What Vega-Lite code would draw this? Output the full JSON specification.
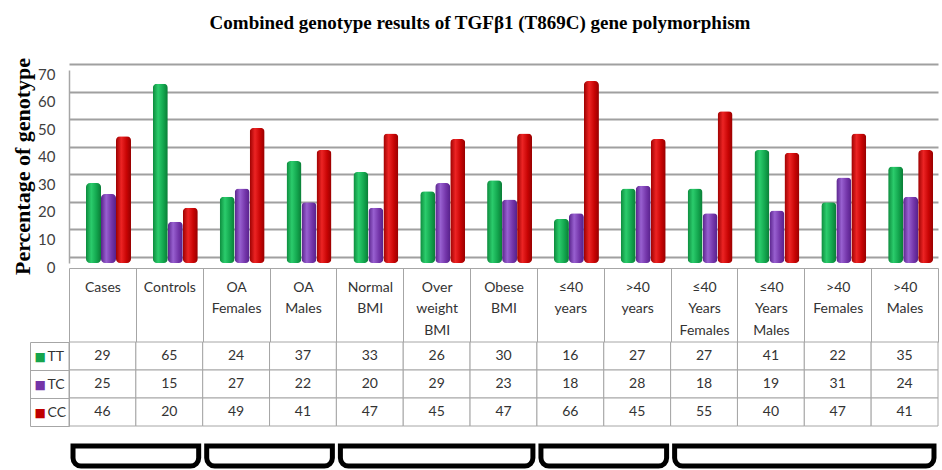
{
  "$schema": "https://vega.github.io/schema/vega-lite/v6.json",
  "width": 942,
  "height": 470,
  "autosize": {"type": "none"},
  "padding": 0,
  "background": "white",
  "config": {"view": {"stroke": null}},
  "title": {"text": "Combined genotype results of  TGFβ1 (T869C) gene polymorphism", "font": "Liberation Serif", "fontSize": 19, "fontWeight": "bold", "color": "#000000", "anchor": "middle", "frame": "group", "dy": 40, "dx": 9, "offset": 0},
  "datasets": {
    "geno": [
      {"category": "Cases", "genotype": "TT", "value": 29},
      {"category": "Controls", "genotype": "TT", "value": 65},
      {"category": "OA\nFemales", "genotype": "TT", "value": 24},
      {"category": "OA\nMales", "genotype": "TT", "value": 37},
      {"category": "Normal\nBMI", "genotype": "TT", "value": 33},
      {"category": "Over\nweight\nBMI", "genotype": "TT", "value": 26},
      {"category": "Obese\nBMI", "genotype": "TT", "value": 30},
      {"category": "≤40\nyears", "genotype": "TT", "value": 16},
      {"category": ">40\nyears", "genotype": "TT", "value": 27},
      {"category": "≤40\nYears\nFemales", "genotype": "TT", "value": 27},
      {"category": "≤40\nYears\nMales", "genotype": "TT", "value": 41},
      {"category": ">40\nFemales", "genotype": "TT", "value": 22},
      {"category": ">40\nMales", "genotype": "TT", "value": 35},
      {"category": "Cases", "genotype": "TC", "value": 25},
      {"category": "Controls", "genotype": "TC", "value": 15},
      {"category": "OA\nFemales", "genotype": "TC", "value": 27},
      {"category": "OA\nMales", "genotype": "TC", "value": 22},
      {"category": "Normal\nBMI", "genotype": "TC", "value": 20},
      {"category": "Over\nweight\nBMI", "genotype": "TC", "value": 29},
      {"category": "Obese\nBMI", "genotype": "TC", "value": 23},
      {"category": "≤40\nyears", "genotype": "TC", "value": 18},
      {"category": ">40\nyears", "genotype": "TC", "value": 28},
      {"category": "≤40\nYears\nFemales", "genotype": "TC", "value": 18},
      {"category": "≤40\nYears\nMales", "genotype": "TC", "value": 19},
      {"category": ">40\nFemales", "genotype": "TC", "value": 31},
      {"category": ">40\nMales", "genotype": "TC", "value": 24},
      {"category": "Cases", "genotype": "CC", "value": 46},
      {"category": "Controls", "genotype": "CC", "value": 20},
      {"category": "OA\nFemales", "genotype": "CC", "value": 49},
      {"category": "OA\nMales", "genotype": "CC", "value": 41},
      {"category": "Normal\nBMI", "genotype": "CC", "value": 47},
      {"category": "Over\nweight\nBMI", "genotype": "CC", "value": 45},
      {"category": "Obese\nBMI", "genotype": "CC", "value": 47},
      {"category": "≤40\nyears", "genotype": "CC", "value": 66},
      {"category": ">40\nyears", "genotype": "CC", "value": 45},
      {"category": "≤40\nYears\nFemales", "genotype": "CC", "value": 55},
      {"category": "≤40\nYears\nMales", "genotype": "CC", "value": 40},
      {"category": ">40\nFemales", "genotype": "CC", "value": 47},
      {"category": ">40\nMales", "genotype": "CC", "value": 41}
    ],
    "braces": [
      {"g": "a", "from": "Cases", "to": "Controls"},
      {"g": "b", "from": "OA\nFemales", "to": "OA\nMales"},
      {"g": "c", "from": "Normal\nBMI", "to": "Obese\nBMI"},
      {"g": "d", "from": "≤40\nyears", "to": ">40\nyears"},
      {"g": "e", "from": "≤40\nYears\nFemales", "to": ">40\nMales"}
    ]
  },
  "layer": [
    {
      "data": {"name": "geno"},
      "transform": [{"filter": "datum.genotype === 'TT'"}],
      "mark": {"type": "bar", "cornerRadius": 4, "fill": {"gradient": "linear", "x1": 0, "x2": 1, "y1": 0, "y2": 0, "stops": [{"offset": 0, "color": "#0c8a3c"}, {"offset": 0.35, "color": "#2bcc6c"}, {"offset": 0.7, "color": "#13a64e"}, {"offset": 1, "color": "#0a7c36"}]}},
      "encoding": {
        "x": {"field": "category", "type": "nominal", "sort": null,
          "scale": {"domain": ["Cases", "Controls", "OA\nFemales", "OA\nMales", "Normal\nBMI", "Over\nweight\nBMI", "Obese\nBMI", "≤40\nyears", ">40\nyears", "≤40\nYears\nFemales", "≤40\nYears\nMales", ">40\nFemales", ">40\nMales"], "range": [69, 938], "paddingInner": 0, "paddingOuter": 0},
          "axis": {"orient": "top", "offset": -268, "title": null, "grid": false, "domain": true, "domainColor": "#a6a6a6", "ticks": true, "tickBand": "extent", "tickSize": -74, "tickColor": "#a6a6a6", "tickWidth": 1, "labelExpr": "split(datum.label, '\\n')", "labelBaseline": "top", "labelPadding": 62, "labelFont": "Lato", "labelFontSize": 14, "labelColor": "#333333", "labelLineHeight": 21.5, "labelAngle": 0, "labelOverlap": false, "labelBound": false, "labelFlush": false, "labelLimit": 200}},
        "xOffset": {"field": "genotype", "type": "nominal", "scale": {"domain": ["TT", "TC", "CC"], "range": [17, 62], "paddingInner": 0, "paddingOuter": 0}},
        "y": {"field": "value", "type": "quantitative",
          "scale": {"domain": [0, 70], "range": [263, 70], "nice": false, "zero": true},
          "axis": {"orient": "left", "offset": -69, "values": [0, 10, 20, 30, 40, 50, 60, 70], "grid": false, "domain": true, "domainColor": "#a6a6a6", "domainWidth": 1.5, "ticks": true, "tickSize": -869, "tickColor": "#a0a0a0", "tickWidth": 2, "tickOffset": -6, "labelOffset": 10, "labelPadding": 883, "labelFont": "Lato", "labelFontSize": 15, "labelColor": "#404040", "title": "Percentage of genotype", "titleFont": "Liberation Serif", "titleFontSize": 22, "titleFontWeight": "bold", "titleColor": "#000000", "titleX": -47, "titleY": 166, "titleAngle": -90, "titleAlign": "center", "titleBaseline": "middle"}}
      }
    },
    {
      "data": {"name": "geno"},
      "transform": [{"filter": "datum.genotype === 'TC'"}],
      "mark": {"type": "bar", "cornerRadius": 4, "fill": {"gradient": "linear", "x1": 0, "x2": 1, "y1": 0, "y2": 0, "stops": [{"offset": 0, "color": "#58228a"}, {"offset": 0.35, "color": "#9860d0"}, {"offset": 0.7, "color": "#7436aa"}, {"offset": 1, "color": "#56208a"}]}},
      "encoding": {
        "x": {"field": "category", "type": "nominal", "sort": null, "scale": {"domain": ["Cases", "Controls", "OA\nFemales", "OA\nMales", "Normal\nBMI", "Over\nweight\nBMI", "Obese\nBMI", "≤40\nyears", ">40\nyears", "≤40\nYears\nFemales", "≤40\nYears\nMales", ">40\nFemales", ">40\nMales"], "range": [69, 938], "paddingInner": 0, "paddingOuter": 0}},
        "xOffset": {"field": "genotype", "type": "nominal", "scale": {"domain": ["TT", "TC", "CC"], "range": [17, 62], "paddingInner": 0, "paddingOuter": 0}},
        "y": {"field": "value", "type": "quantitative", "scale": {"domain": [0, 70], "range": [263, 70], "nice": false, "zero": true}, "axis": null}
      }
    },
    {
      "data": {"name": "geno"},
      "transform": [{"filter": "datum.genotype === 'CC'"}],
      "mark": {"type": "bar", "cornerRadius": 4, "fill": {"gradient": "linear", "x1": 0, "x2": 1, "y1": 0, "y2": 0, "stops": [{"offset": 0, "color": "#9c0000"}, {"offset": 0.35, "color": "#ec2424"}, {"offset": 0.7, "color": "#c80404"}, {"offset": 1, "color": "#960000"}]}},
      "encoding": {
        "x": {"field": "category", "type": "nominal", "sort": null, "scale": {"domain": ["Cases", "Controls", "OA\nFemales", "OA\nMales", "Normal\nBMI", "Over\nweight\nBMI", "Obese\nBMI", "≤40\nyears", ">40\nyears", "≤40\nYears\nFemales", "≤40\nYears\nMales", ">40\nFemales", ">40\nMales"], "range": [69, 938], "paddingInner": 0, "paddingOuter": 0}},
        "xOffset": {"field": "genotype", "type": "nominal", "scale": {"domain": ["TT", "TC", "CC"], "range": [17, 62], "paddingInner": 0, "paddingOuter": 0}},
        "y": {"field": "value", "type": "quantitative", "scale": {"domain": [0, 70], "range": [263, 70], "nice": false, "zero": true}, "axis": null}
      }
    },
    {
      "data": {"name": "geno"},
      "mark": {"type": "rect", "fill": "white", "stroke": "#a6a6a6", "strokeWidth": 1},
      "encoding": {
        "x": {"field": "category", "type": "nominal", "sort": null, "scale": {"domain": ["Cases", "Controls", "OA\nFemales", "OA\nMales", "Normal\nBMI", "Over\nweight\nBMI", "Obese\nBMI", "≤40\nyears", ">40\nyears", "≤40\nYears\nFemales", "≤40\nYears\nMales", ">40\nFemales", ">40\nMales"], "range": [69, 938], "paddingInner": 0, "paddingOuter": 0}},
        "y": {"field": "genotype", "type": "nominal", "sort": null,
          "scale": {"domain": ["TT", "TC", "CC"], "range": [342, 426], "paddingInner": 0, "paddingOuter": 0},
          "axis": {"orient": "left", "offset": -69, "title": null, "grid": false, "domain": true, "domainColor": "#a6a6a6", "ticks": true, "tickBand": "extent", "tickSize": 39, "tickColor": "#a6a6a6", "tickWidth": 1, "labelAlign": "left", "labelPadding": -17, "labelFont": "Lato", "labelFontSize": 14, "labelColor": "#333333"}}
      }
    },
    {
      "data": {"name": "geno"},
      "mark": {"type": "text", "font": "Lato", "fontSize": 14, "color": "#333333", "align": "center", "baseline": "middle"},
      "encoding": {
        "x": {"field": "category", "type": "nominal", "sort": null, "scale": {"domain": ["Cases", "Controls", "OA\nFemales", "OA\nMales", "Normal\nBMI", "Over\nweight\nBMI", "Obese\nBMI", "≤40\nyears", ">40\nyears", "≤40\nYears\nFemales", "≤40\nYears\nMales", ">40\nFemales", ">40\nMales"], "range": [69, 938], "paddingInner": 0, "paddingOuter": 0}},
        "y": {"field": "genotype", "type": "nominal", "sort": null,
          "scale": {"domain": ["TT", "TC", "CC"], "range": [342, 426], "paddingInner": 0, "paddingOuter": 0},
          "axis": {"orient": "left", "offset": -30, "title": null, "grid": false, "domain": true, "domainColor": "#a6a6a6", "ticks": false, "labelExpr": "'■'", "labelAlign": "left", "labelPadding": -4, "labelFont": "DejaVu Sans", "labelFontSize": 12,
            "labelColor": {"condition": [{"test": "datum.value === 'TT'", "value": "#16a44c"}, {"test": "datum.value === 'TC'", "value": "#7434a8"}], "value": "#c00000"}}},
        "text": {"field": "value", "type": "quantitative"}
      }
    },
    {
      "data": {"name": "braces"},
      "mark": {"type": "rect", "fill": null, "stroke": "#000000", "strokeWidth": 5, "cornerRadiusTopLeft": 0, "cornerRadiusTopRight": 0, "cornerRadiusBottomLeft": 8, "cornerRadiusBottomRight": 8, "strokeCap": "butt"},
      "encoding": {
        "x": {"field": "from", "type": "nominal", "bandPosition": 0.06, "scale": {"domain": ["Cases", "Controls", "OA\nFemales", "OA\nMales", "Normal\nBMI", "Over\nweight\nBMI", "Obese\nBMI", "≤40\nyears", ">40\nyears", "≤40\nYears\nFemales", "≤40\nYears\nMales", ">40\nFemales", ">40\nMales"], "range": [69, 938], "paddingInner": 0, "paddingOuter": 0}},
        "x2": {"field": "to", "bandPosition": 0.94},
        "y": {"datum": "b", "type": "nominal", "scale": {"domain": ["b"], "range": [446, 466], "paddingInner": 0, "paddingOuter": 0}, "axis": null},
        "strokeDash": {"field": "g", "type": "nominal", "scale": {"domain": ["a", "b", "c", "d", "e"], "range": [[0, 126, 3000], [0, 126, 3000], [0, 193, 3000], [0, 126, 3000], [0, 260, 3000]]}, "legend": null}
      }
    }
  ],
  "resolve": {"scale": {"y": "independent"}}
}
